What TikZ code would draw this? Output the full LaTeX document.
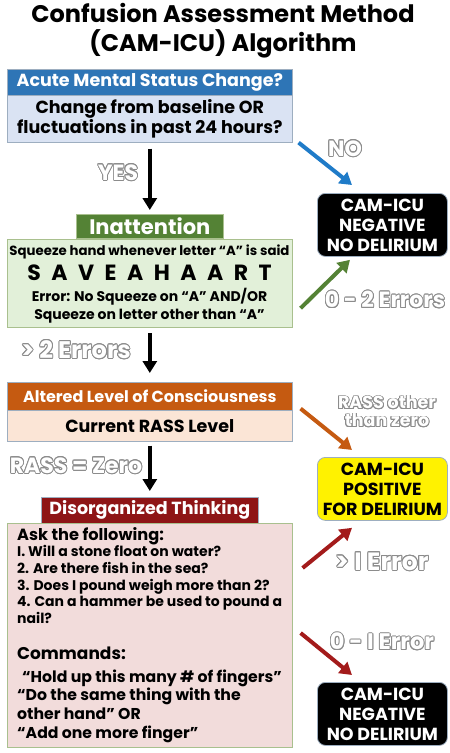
\documentclass[tikz,border=0pt]{standalone}
\usepackage{fontspec}
\setmainfont{Poppins}
\usepackage{contour}
\contourlength{0.9pt}
\usetikzlibrary{arrows.meta}
\definecolor{hblue}{HTML}{2E75B6}
\definecolor{bblue}{HTML}{DAE3F3}
\definecolor{hgreen}{HTML}{548235}
\definecolor{bgreen}{HTML}{E2F0D9}
\definecolor{horange}{HTML}{C55A11}
\definecolor{borange}{HTML}{FBE5D6}
\definecolor{hred}{HTML}{8E1516}
\definecolor{bred}{HTML}{F2DCDB}
\definecolor{ablue}{HTML}{1F7BC8}
\definecolor{ared}{HTML}{A31B1B}
\definecolor{edge}{HTML}{9DAEC0}
\definecolor{gedge}{HTML}{A9C08E}
\definecolor{lgray}{HTML}{8C8C8C}
\newcommand{\olabel}[1]{{\color{white}\contour{lgray}{#1}}}
\begin{document}
\begin{tikzpicture}[x=1pt,y=-1pt,font=\bfseries,
  hdr/.style={draw=edge,line width=0.6pt,inner sep=0pt,anchor=north west,text=white,align=center},
  bodybox/.style={draw=edge,line width=0.6pt,inner sep=0pt,anchor=north west,align=center},
  result/.style={rounded corners=8pt,draw=edge,line width=0.8pt,inner sep=0pt,anchor=north west,
    minimum width=130pt,minimum height=63pt,align=center,font=\bfseries\fontsize{17.5}{20}\selectfont},
  arr/.style={line width=4pt,-{Triangle[width=14pt,length=12pt]}},
  lbl/.style={inner sep=0pt,font=\bfseries\fontsize{22}{24}\selectfont}]
\useasboundingbox (0,0) rectangle (450,753);
% title
\node[inner sep=0pt,align=center,font=\bfseries\fontsize{24}{29}\selectfont] (title) at (223,31)
  {Confusion Assessment Method\\(CAM-ICU) Algorithm};
% acute mental status
\node[hdr,fill=hblue,minimum width=285pt,minimum height=26pt,font=\bfseries\fontsize{17.5}{19}\selectfont] (amsh) at (7,69) {Acute Mental Status Change?};
\node[bodybox,fill=bblue,minimum width=285pt,minimum height=47pt,font=\bfseries\fontsize{17.5}{19.5}\selectfont] (amsb) at (7,95)
  {Change from baseline OR\\fluctuations in past 24 hours?};
% inattention
\node[hdr,draw=gedge,fill=hgreen,minimum width=147pt,minimum height=24pt,font=\bfseries\fontsize{21}{22}\selectfont] (inh) at (76,214) {Inattention};
\node[bodybox,draw=gedge,fill=bgreen,minimum width=285pt,minimum height=88pt,anchor=north] (inb) at (inh.south) {};
\node[inner sep=0pt,font=\bfseries\fontsize{13.3}{15}\selectfont] (in1) at (149.5,252) {Squeeze hand whenever letter “A” is said};
\node[inner sep=0pt,font=\bfseries\fontsize{22}{24}\selectfont] (in2) at (149.5,273) {\spaceskip=10.5pt S A V E A H A A R T};
\node[inner sep=0pt,align=center,font=\bfseries\fontsize{14}{18}\selectfont] (in3) at (149.5,306)
  {Error: No Squeeze on “A” AND/OR\\Squeeze on letter other than “A”};
% altered level
\node[hdr,fill=horange,minimum width=285pt,minimum height=28pt,font=\bfseries\fontsize{16}{18}\selectfont] (alh) at (7,382) {Altered Level of Consciousness};
\node[bodybox,fill=borange,minimum width=285pt,minimum height=31pt,font=\bfseries\fontsize{17.5}{19}\selectfont] (alb) at (7,410) {Current RASS Level};
% disorganized
\node[hdr,fill=hred,minimum width=217pt,minimum height=26pt,font=\bfseries\fontsize{17.5}{19}\selectfont] (dth) at (41,497) {Disorganized Thinking};
\node[bodybox,draw=gedge,fill=bred,minimum width=285pt,minimum height=224pt] (dtb) at (7,523) {};
\node[inner sep=0pt,anchor=west,font=\bfseries\fontsize{16.2}{19}\selectfont] (ask) at (17,536) {Ask the following:};
\node[inner sep=0pt,anchor=north west,align=left,font=\bfseries\fontsize{14}{16.8}\selectfont] (qs) at (17,545)
  {I. Will a stone float on water?\\2. Are there fish in the sea?\\3. Does I pound weigh more than 2?\\4. Can a hammer be used to pound a\\nail?};
\node[inner sep=0pt,anchor=west,font=\bfseries\fontsize{17}{19}\selectfont] (cmd) at (17,653) {Commands:};
\node[inner sep=0pt,anchor=west,font=\bfseries\fontsize{15.7}{18}\selectfont] (c1) at (22,678) {“Hold up this many \# of fingers”};
\node[inner sep=0pt,anchor=north west,align=left,font=\bfseries\fontsize{15.7}{19}\selectfont] (c2) at (17,688)
  {“Do the same thing with the\\other hand” OR\\“Add one more finger”};
% results
\node[result,fill=black,text=white] (neg1) at (317,193) {CAM-ICU\\NEGATIVE\\NO DELIRIUM};
\node[result,fill=yellow,text=black] (pos) at (317,457) {CAM-ICU\\POSITIVE\\FOR DELIRIUM};
\node[result,fill=black,text=white] (neg2) at (317,682) {CAM-ICU\\NEGATIVE\\NO DELIRIUM};
% main arrows
\draw[arr,shorten <=6pt,shorten >=4pt] (amsb.south) -- (inh.north);
\draw[arr,shorten <=6pt,shorten >=9pt] (inb.south) -- (alh.north);
\draw[arr,shorten <=4pt,shorten >=6pt] (alb.south) -- (dth.north);
% side arrows
\draw[arr,ablue] ([xshift=6pt]amsb.south east) -- ([xshift=35pt,yshift=8pt]neg1.north west);
\draw[arr,hgreen] ([xshift=8pt,yshift=19pt]inb.south east) -- ([xshift=33pt,yshift=-3pt]neg1.south west);
\draw[arr,horange] ([xshift=8pt,yshift=2pt]alh.south east) -- ([xshift=35pt,yshift=7pt]pos.north west);
\draw[arr,ared] ([xshift=10pt,yshift=-45pt]dtb.north east) -- ([xshift=35pt,yshift=-7pt]pos.south west);
\draw[arr,ared] ([xshift=8pt,yshift=-110pt]dtb.north east) -- ([xshift=35pt,yshift=7pt]neg2.north west);
% labels
\node[lbl] (yes) at (118,173) {\olabel{YES}};
\node[lbl] (no) at (345,149) {\olabel{NO}};
\node[lbl] (e02) at (385,300) {\olabel{0 - 2 Errors}};
\node[lbl,font=\bfseries\fontsize{24}{26}\selectfont] (e2) at (76,350) {\olabel{> 2 Errors}};
\node[lbl,align=center,font=\bfseries\fontsize{17.5}{18}\selectfont] (rother) at (387,412) {\olabel{RASS other}\\\olabel{than zero}};
\node[lbl] (rzero) at (76,466) {\olabel{RASS = Zero}};
\node[lbl,font=\bfseries\fontsize{25}{27}\selectfont] (e1) at (382,562) {\olabel{> I Error}};
\node[lbl,font=\bfseries\fontsize{22.5}{24}\selectfont] (e01) at (382,642) {\olabel{0 - I Error}};
\end{tikzpicture}
\end{document}
